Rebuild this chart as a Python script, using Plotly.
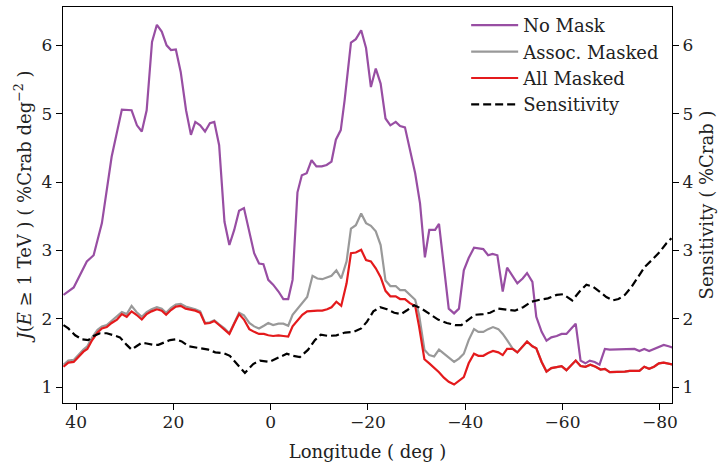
import plotly.graph_objects as go

# ---------------- data ----------------
lon_nomask = [42.6, 40.5, 37.8, 36.4, 34.7, 32.7, 30.6, 28.6, 27.5, 26.5, 25.5, 24.4, 23.4, 22.4, 21.4,
              20.5, 19.5, 18.5, 17.4, 16.4, 15.5, 14.5, 13.5, 12.5, 11.6, 10.6, 9.5, 8.5, 7.5, 6.5,
              5.5, 4.4, 3.4, 2.4, 1.5, 0.5, -0.5, -1.6, -2.6, -3.6, -4.5, -5.5, -6.4, -7.4, -8.4,
              -9.4, -10.5, -11.5, -12.5, -13.4, -14.4, -15.2, -16.5, -17.5, -18.6, -19.6, -20.6, -21.6, -22.6,
              -23.6, -24.6, -25.7, -26.6, -27.6, -28.6, -29.7, -30.7, -31.7, -32.6, -33.8, -34.6, -35.6, -36.6,
              -37.7, -38.7, -39.7, -40.7, -41.8, -43.7, -44.7, -45.6, -46.6, -47.7, -48.6, -49.7, -50.7, -51.8,
              -52.7, -53.8, -54.6, -55.7, -56.7, -57.7, -58.8, -59.8, -60.8, -61.8, -62.7, -63.7, -64.7, -65.6,
              -66.6, -67.6, -68.7, -69.7, -70.7, -71.7, -72.8, -73.8, -74.8, -75.8, -76.8, -77.8, -78.8, -79.8,
              -80.8, -81.8, -82.7]
val_nomask = [2.35, 2.46, 2.84, 2.93, 3.40, 4.37, 5.06, 5.05, 4.83, 4.74, 5.05, 6.05, 6.30, 6.20, 6.00,
              5.93, 5.94, 5.61, 5.05, 4.69, 4.88, 4.83, 4.74, 4.86, 4.88, 4.54, 3.42, 3.08, 3.30, 3.58,
              3.62, 3.25, 2.96, 2.81, 2.80, 2.57, 2.50, 2.40, 2.29, 2.29, 2.57, 3.85, 4.10, 4.13, 4.32,
              4.23, 4.23, 4.25, 4.30, 4.62, 4.76, 5.20, 6.04, 6.09, 6.22, 5.96, 5.39, 5.66, 5.44,
              4.93, 4.83, 4.88, 4.82, 4.80, 4.47, 4.13, 3.69, 2.90, 3.30, 3.30, 3.39, 2.76, 2.15,
              2.08, 2.15, 2.71, 2.89, 3.04, 3.02, 2.93, 2.95, 2.93, 2.40, 2.75, 2.62, 2.52, 2.59,
              2.67, 2.54, 2.03, 1.81, 1.68, 1.73, 1.75, 1.78, 1.78, 1.86, 1.93, 1.39, 1.35, 1.39,
              1.37, 1.33, 1.56, 1.55, 1.55, 1.56, 1.56, 1.56, 1.56, 1.53, 1.56, 1.53, 1.56, 1.60,
              1.62, 1.60, 1.58]

lon_masked = [42.6, 41.6, 40.5, 39.5, 38.5, 37.7, 36.7, 35.6, 34.7, 33.7, 32.7, 31.6, 30.6, 29.6, 28.6,
              27.6, 26.5, 25.5, 24.5, 23.4, 22.4, 21.5, 20.5, 19.5, 18.5, 17.5, 16.4, 15.5, 14.5, 13.5,
              12.5, 11.6, 10.6, 9.5, 8.5, 7.5, 6.5, 5.5, 4.4, 3.4, 2.4, 1.4, 0.5, -0.5, -1.6,
              -2.6, -3.6, -4.5, -5.5, -6.5, -7.5, -8.6, -9.6, -10.6, -11.6, -12.5, -13.5, -14.5, -15.6,
              -16.5, -17.5, -18.6, -19.6, -20.6, -21.6, -22.6, -23.6, -24.6, -25.7, -26.6, -27.6, -28.6, -29.7,
              -30.5, -31.6, -32.6, -33.6, -34.6, -35.6, -36.6, -37.7, -38.7, -39.7, -40.7, -41.8, -42.7, -43.7,
              -44.7, -45.7, -46.8, -47.7, -48.6, -49.7, -50.7, -51.8, -52.7, -53.8, -54.6, -55.7, -56.7, -57.7,
              -58.8, -59.8, -60.8, -61.8, -62.7, -63.7, -64.7, -65.7, -66.8, -67.8, -68.7, -69.7, -70.7, -71.7,
              -72.8, -73.8, -74.8, -75.8, -76.8, -77.8, -78.8, -79.8, -80.8, -81.9, -82.7]
val_allmask = [1.30, 1.36, 1.37, 1.45, 1.52, 1.56, 1.69, 1.80, 1.86, 1.88, 1.94, 1.99, 2.07, 2.03, 2.11,
               2.06, 1.99, 2.07, 2.11, 2.14, 2.12, 2.06, 2.13, 2.18, 2.19, 2.15, 2.13, 2.12, 2.09, 1.93,
               1.94, 1.97, 1.91, 1.84, 1.78, 1.93, 2.07, 1.99, 1.85, 1.81, 1.78, 1.78, 1.76, 1.75, 1.76,
               1.75, 1.74, 1.89, 1.98, 2.06, 2.11, 2.12, 2.12, 2.12, 2.14, 2.17, 2.25, 2.19, 2.52,
               2.96, 2.97, 3.01, 2.86, 2.84, 2.74, 2.61, 2.41, 2.33, 2.33, 2.29, 2.29, 2.23, 2.19,
               1.89, 1.41, 1.35, 1.29, 1.22, 1.14, 1.08, 1.04, 1.09, 1.15, 1.35, 1.49, 1.46, 1.46,
               1.50, 1.53, 1.51, 1.47, 1.56, 1.56, 1.51, 1.59, 1.67, 1.60, 1.57, 1.37, 1.23, 1.28,
               1.29, 1.31, 1.25, 1.33, 1.39, 1.31, 1.30, 1.33, 1.30, 1.26, 1.27, 1.22, 1.22, 1.23,
               1.23, 1.24, 1.24, 1.24, 1.30, 1.27, 1.30, 1.35, 1.36, 1.34, 1.33]
val_assoc = [1.33, 1.39, 1.40, 1.48, 1.55, 1.60, 1.73, 1.84, 1.89, 1.91, 1.97, 2.03, 2.10, 2.07, 2.19,
             2.10, 2.03, 2.10, 2.14, 2.17, 2.15, 2.09, 2.16, 2.21, 2.22, 2.18, 2.16, 2.14, 2.11, 1.94,
             1.95, 1.98, 1.92, 1.86, 1.79, 1.95, 2.09, 2.05, 1.94, 1.89, 1.86, 1.90, 1.94, 1.91, 1.93,
             1.93, 1.90, 2.06, 2.15, 2.24, 2.32, 2.63, 2.59, 2.58, 2.61, 2.63, 2.71, 2.59, 2.84,
             3.32, 3.37, 3.54, 3.40, 3.36, 3.28, 3.08, 2.56, 2.48, 2.48, 2.42, 2.42, 2.35, 2.28,
             2.06, 1.55, 1.47, 1.45, 1.55, 1.49, 1.44, 1.37, 1.42, 1.49, 1.69, 1.85, 1.81, 1.81,
             1.85, 1.88, 1.85, 1.78, 1.69, 1.57, 1.51, 1.59, 1.67, 1.60, 1.57, 1.37, 1.23, 1.28,
             1.29, 1.31, 1.25, 1.33, 1.39, 1.31, 1.30, 1.33, 1.30, 1.26, 1.27, 1.22, 1.22, 1.23,
             1.23, 1.24, 1.24, 1.24, 1.30, 1.27, 1.30, 1.35, 1.36, 1.34, 1.33]

lon_sens = [42.6, 41.6, 40.2, 38.8, 37.5, 36.4, 35.1, 33.7, 32.3, 31.0, 29.6, 28.6, 27.6, 26.5, 25.5,
            24.1, 23.1, 22.1, 20.7, 19.5, 18.3, 16.9, 15.5, 14.2, 12.8, 11.4, 9.7, 8.4, 7.0, 5.3,
            3.6, 2.2, 0.3, -1.9, -3.3, -4.6, -6.0, -7.7, -9.1, -10.3, -11.8, -13.5, -15.3, -17.0,
            -18.6, -19.8, -21.1, -22.5, -23.9, -25.4, -26.8, -28.1, -29.5, -31.0, -32.7, -34.4, -36.2,
            -37.9, -39.2, -40.6, -42.0, -43.7, -45.1, -46.8, -48.5, -50.2, -51.9, -53.6, -55.3, -57.0,
            -58.8, -60.1, -62.0, -63.5, -64.9, -66.3, -67.6, -69.0, -70.3, -71.5, -72.8, -74.2, -75.6,
            -76.9, -78.5, -80.0, -81.4, -82.4]
val_sens = [1.91, 1.86, 1.76, 1.70, 1.69, 1.75, 1.79, 1.79, 1.76, 1.73, 1.62, 1.55, 1.60, 1.65, 1.64,
            1.62, 1.62, 1.65, 1.69, 1.70, 1.67, 1.60, 1.58, 1.57, 1.55, 1.51, 1.50, 1.46, 1.35, 1.21,
            1.34, 1.39, 1.37, 1.45, 1.49, 1.46, 1.44, 1.55, 1.69, 1.77, 1.75, 1.76, 1.80, 1.81,
            1.86, 1.96, 2.11, 2.17, 2.14, 2.09, 2.07, 2.13, 2.20, 2.15, 2.07, 1.99, 1.94,
            1.91, 1.91, 1.98, 2.06, 2.07, 2.09, 2.15, 2.14, 2.12, 2.17, 2.25, 2.28, 2.30,
            2.35, 2.36, 2.27, 2.40, 2.50, 2.47, 2.40, 2.32, 2.27, 2.29, 2.35, 2.47, 2.62,
            2.76, 2.87, 2.98, 3.11, 3.18]

for a, b in [(lon_nomask, val_nomask), (lon_masked, val_allmask), (lon_masked, val_assoc), (lon_sens, val_sens)]:
    if len(a) != len(b):
        raise ValueError(f"length mismatch {len(a)} {len(b)}")

x_ticks = [40, 20, 0, -20, -40, -60, -80]
x_ticklabels = ["40", "20", "0", "\u221220", "\u221240", "\u221260", "\u221280"]
y_ticks = [1, 2, 3, 4, 5, 6]

# ---------------- styling ----------------
FONT = "DejaVu Serif"
FS = 17      # tick labels
FT = 18      # titles and legend
LW = 2.2
YR = [0.77, 6.56]
XR = [42.7, -82.5]

fig = go.Figure()
fig.add_trace(go.Scatter(x=lon_nomask, y=val_nomask, mode="lines", name="No Mask",
                         line=dict(color="#984ea3", width=LW)))
fig.add_trace(go.Scatter(x=lon_masked, y=val_assoc, mode="lines", name="Assoc. Masked",
                         line=dict(color="#999999", width=LW)))
fig.add_trace(go.Scatter(x=lon_masked, y=val_allmask, mode="lines", name="All Masked",
                         line=dict(color="#e41a1c", width=LW)))
fig.add_trace(go.Scatter(x=lon_sens, y=val_sens, mode="lines", name="Sensitivity", yaxis="y2",
                         line=dict(color="black", width=LW, dash="8px,4px")))

axis_common = dict(showgrid=False, zeroline=False, showline=True, linecolor="black", linewidth=1.3,
                   ticks="outside", ticklen=6, tickwidth=1.2, tickcolor="black", automargin=False,
                   tickfont=dict(family=FONT, size=FS, color="#222"))

fig.update_layout(
    width=725, height=463,
    margin=dict(l=63, r=53, t=7, b=60, autoexpand=False),
    paper_bgcolor="white", plot_bgcolor="white",
    font=dict(family=FONT, size=FS, color="#222"),
    xaxis=dict(range=XR, tickvals=x_ticks, ticktext=x_ticklabels, mirror=True,
               title=dict(text="Longitude ( deg )", font=dict(family=FONT, size=FT), standoff=14),
               ticklabelstandoff=-3,
               **axis_common),
    yaxis=dict(range=YR, tickvals=y_ticks,
               title=dict(text="<i>J</i>(<i>E</i> \u2265 1 TeV ) ( %Crab deg<sup>\u22122</sup> )",
                          font=dict(family=FONT, size=FT), standoff=5),
               **axis_common),
    yaxis2=dict(range=YR, tickvals=y_ticks, overlaying="y", side="right",
                title=dict(text="Sensitivity ( %Crab )", font=dict(family=FONT, size=FT), standoff=8),
                **axis_common),
    legend=dict(x=0.662, y=1.0, xanchor="left", yanchor="top", bgcolor="rgba(0,0,0,0)",
                font=dict(family=FONT, size=FT), itemwidth=47, tracegroupgap=0),
    showlegend=True,
)

fig.write_html("out.html", config={"displayModeBar": False},
               post_script="document.body.style.margin='0px';")
